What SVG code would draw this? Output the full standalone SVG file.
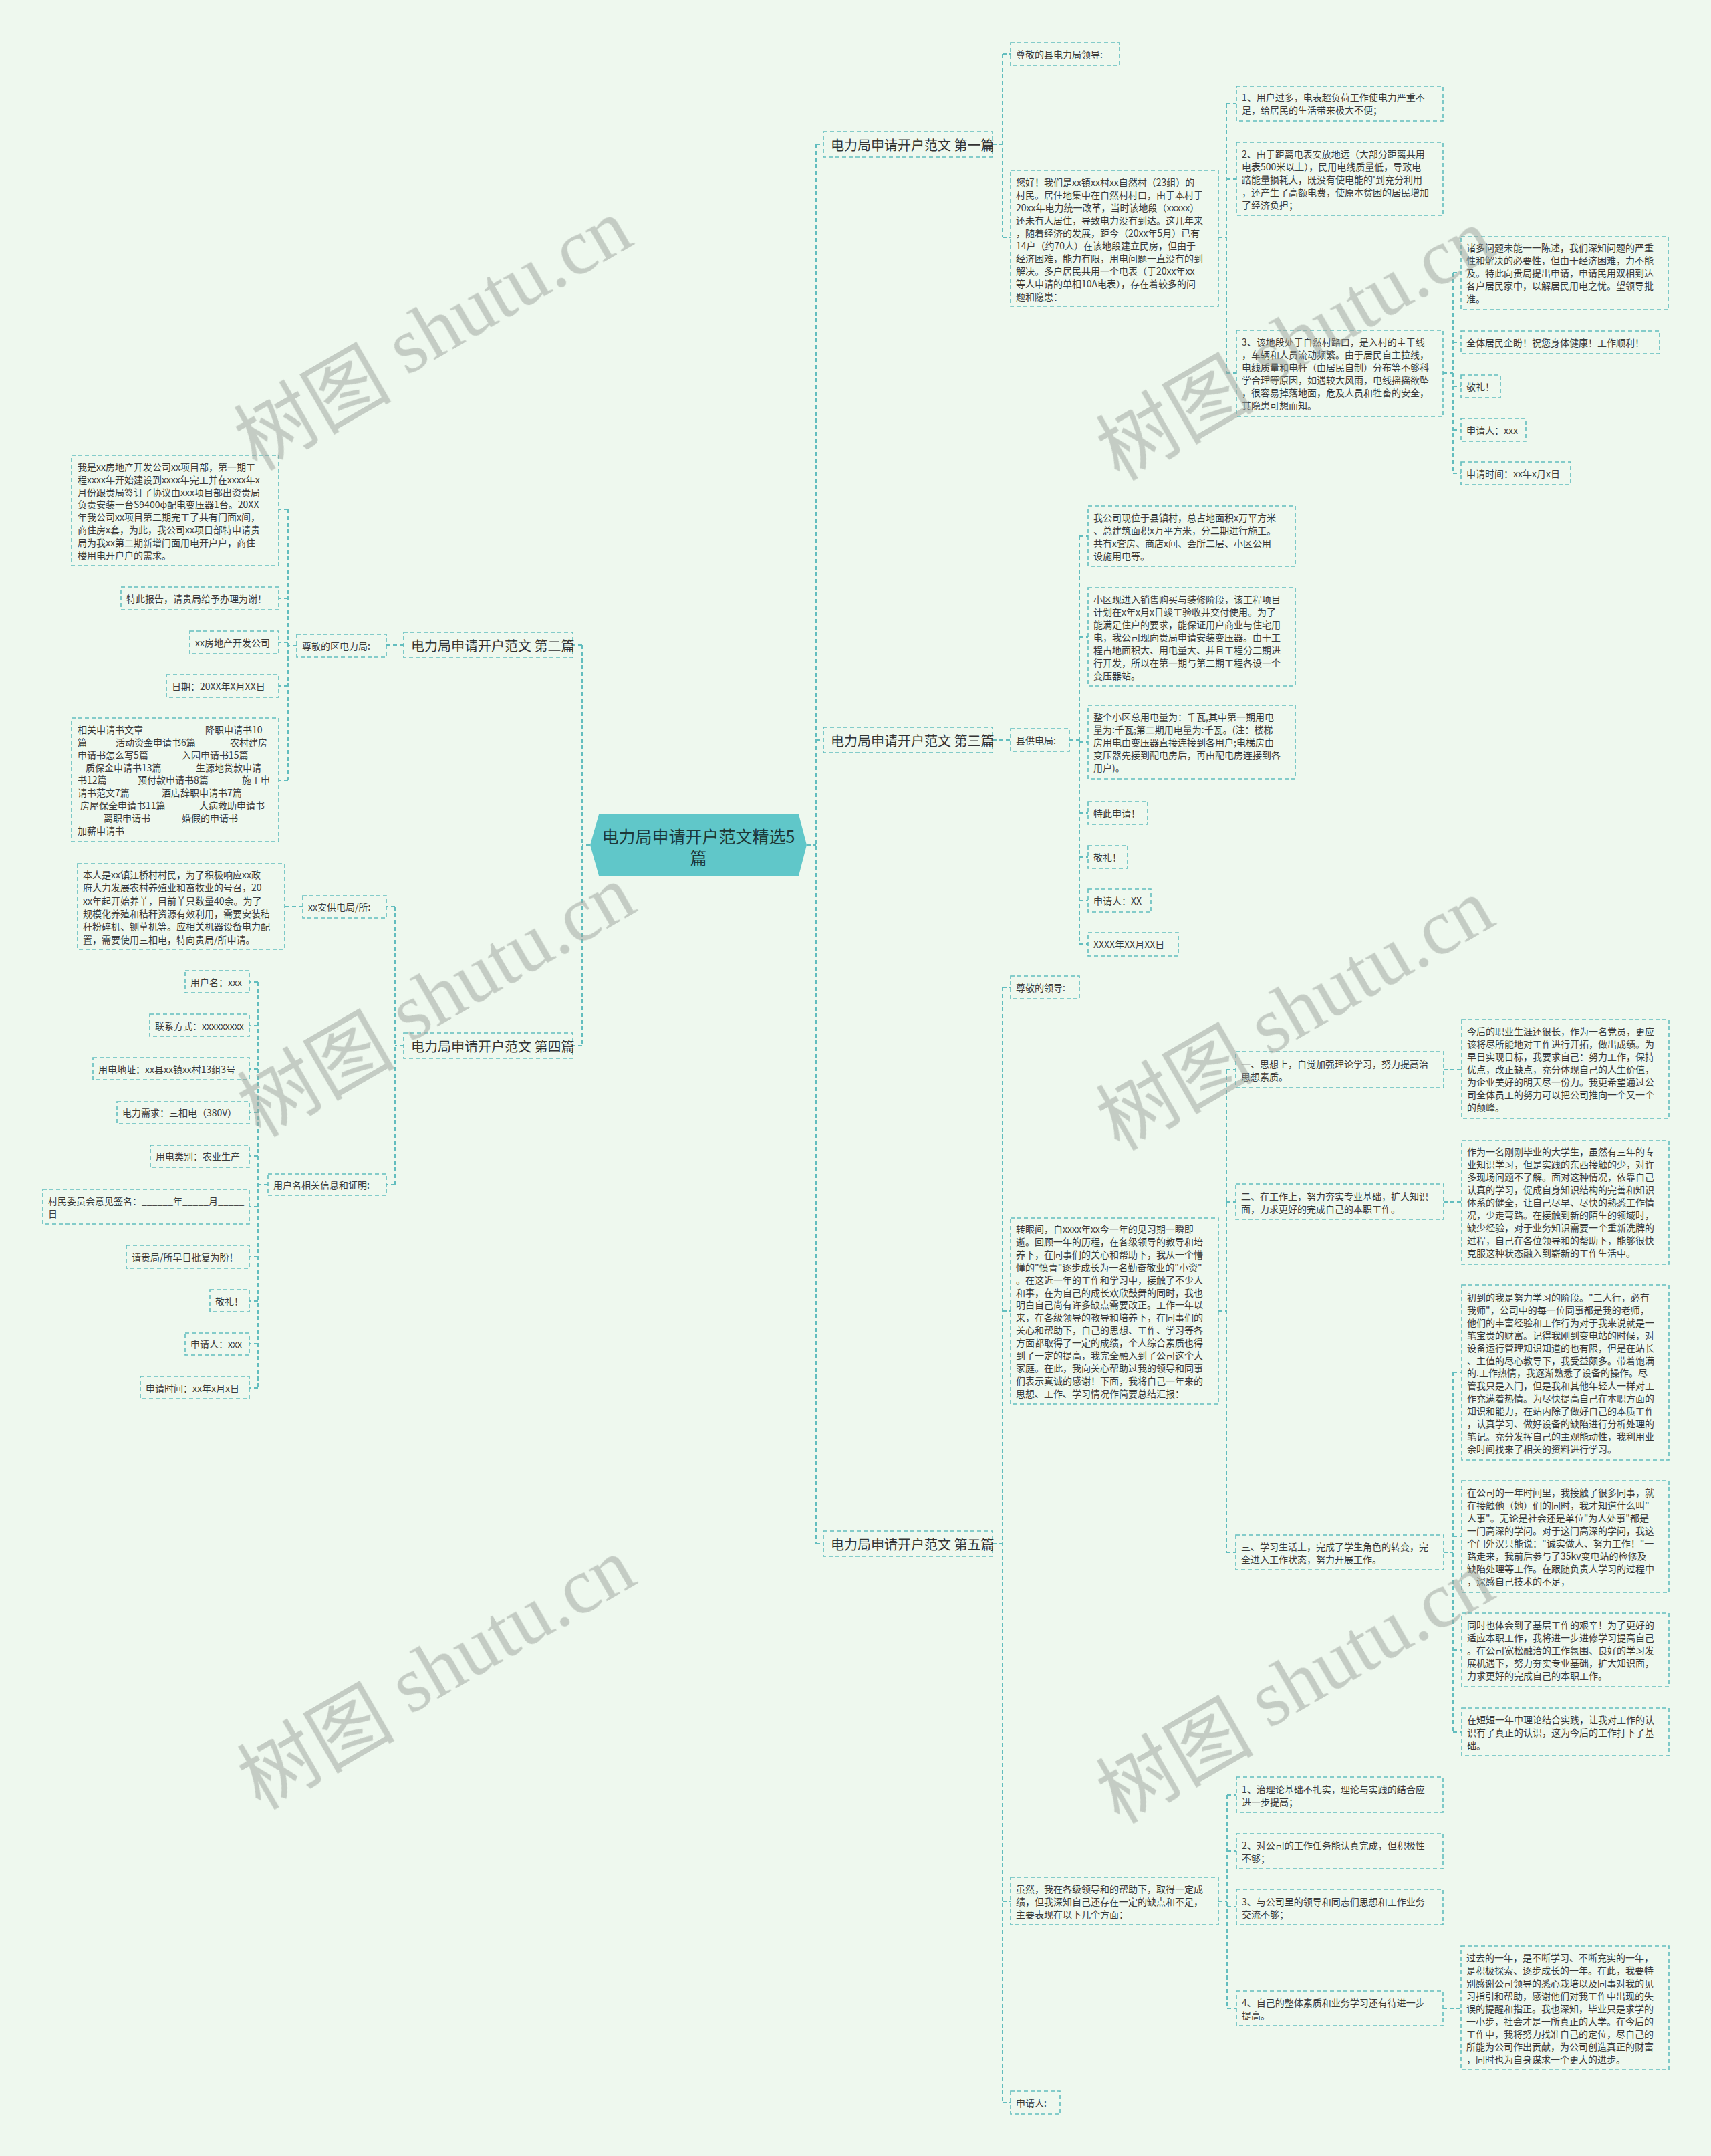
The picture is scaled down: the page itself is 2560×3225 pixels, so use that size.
<svg xmlns="http://www.w3.org/2000/svg" width="2560" height="3225" viewBox="0 0 2560 3225">
<style>
.bg{fill:#eef8ee}
.box{fill:none;stroke:#62bdbe;stroke-width:1.6;stroke-dasharray:6 4}
.ln{fill:none;stroke:#62bdbe;stroke-width:2;stroke-dasharray:6 4}
text,tspan{dominant-baseline:central}
.t{font-family:"Noto Sans CJK SC","Liberation Sans",sans-serif;font-size:14px;fill:#3a3a3a}
.ti{font-family:"Noto Sans CJK SC","Liberation Sans",sans-serif;font-size:20px;fill:#333}
.ct{font-family:"Noto Sans CJK SC","Liberation Sans",sans-serif;font-size:25px;fill:#1d3838;text-anchor:middle}
.wm{font-size:118px;fill:#9aa19a;opacity:0.5;text-anchor:middle}
.wc{font-family:"Noto Sans CJK SC",sans-serif}
.ws{font-family:"Liberation Serif",serif}
</style>
<rect class="bg" x="0" y="0" width="2560" height="3225"/>

<g id="connectors">
<path class="ln" d="M1207 1264H1221M1221 216V2309M1221 216H1232M1221 1107H1232M1221 2309H1232"/>
<path class="ln" d="M883 1264H871M871 965V1564M871 965H857M871 1564H857"/>
<path class="ln" d="M1485 216H1500M1500 81V355M1500 81H1512M1500 355H1512"/>
<path class="ln" d="M1823 355H1835M1835 155V558M1835 155H1850M1835 268H1850M1835 558H1850"/>
<path class="ln" d="M2159 558H2174M2174 408V708M2174 408H2186M2174 512H2186M2174 578H2186M2174 643H2186M2174 708H2186"/>
<path class="ln" d="M1485 1107H1512M1600 1107H1615M1615 802V1412M1615 802H1628M1615 953H1628M1615 1110H1628M1615 1216H1628M1615 1282H1628M1615 1347H1628M1615 1412H1628"/>
<path class="ln" d="M1485 2309H1500M1500 1477V3145M1500 1477H1512M1500 1961H1512M1500 2844H1512M1500 3145H1512"/>
<path class="ln" d="M1823 1961H1835M1835 1600V2322M1835 1600H1849M1835 1798H1849M1835 2322H1849"/>
<path class="ln" d="M2160 1600H2187M2160 1798H2187"/>
<path class="ln" d="M2160 2322H2174M2174 2053V2591M2174 2053H2187M2174 2298H2187M2174 2468H2187M2174 2591H2187"/>
<path class="ln" d="M1823 2844H1836M1836 2685V3004M1836 2685H1850M1836 2769H1850M1836 2852H1850M1836 3004H1850M2159 3004H2186"/>
<path class="ln" d="M604 965H578M444 966H431M431 762V1167M431 762H417M431 895H417M431 961H417M431 1026H417M431 1167H417"/>
<path class="ln" d="M604 1564H591M591 1356V1772M591 1356H578M591 1772H578M453 1356H426"/>
<path class="ln" d="M401 1772H386M386 1469V2076M386 1469H373M386 1534H373M386 1599H373M386 1664H373M386 1729H373M386 1805H373M386 1880H373M386 1946H373M386 2010H373M386 2076H373"/>
</g>

<g id="center">
<polygon points="883,1264 896,1218 1195,1218 1207,1264 1195,1310 896,1310" fill="#60c7c9"/>
<text class="ct" x="1045" y="1250">电力局申请开户范文精选5</text>
<text class="ct" x="1045" y="1282">篇</text>
</g>

<!-- ===== 第一篇 ===== -->
<g id="b1">
<rect class="box" x="1232" y="197" width="253" height="38"/>
<text class="ti" x="1243" y="216">电力局申请开户范文 第一篇</text>
</g>
<g id="b1-greet">
<rect class="box" x="1512" y="64" width="163" height="34"/>
<text class="t" x="1520" y="81">尊敬的县电力局领导:</text>
</g>
<g id="b1-body">
<rect class="box" x="1512" y="255" width="311" height="203"/>
<text class="t" x="1520" y="272"><tspan x="1520" dy="0">您好！我们是xx镇xx村xx自然村（23组）的</tspan><tspan x="1520" dy="19">村民。居住地集中在自然村村口，由于本村于</tspan><tspan x="1520" dy="19">20xx年电力统一改革，当时该地段（xxxxx）</tspan><tspan x="1520" dy="19">还未有人居住，导致电力没有到达。这几年来</tspan><tspan x="1520" dy="19">，随着经济的发展，距今（20xx年5月）已有</tspan><tspan x="1520" dy="19">14户（约70人）在该地段建立民房，但由于</tspan><tspan x="1520" dy="19">经济困难，能力有限，用电问题一直没有的到</tspan><tspan x="1520" dy="19">解决。多户居民共用一个电表（于20xx年xx</tspan><tspan x="1520" dy="19">等人申请的单相10A电表），存在着较多的问</tspan><tspan x="1520" dy="19">题和隐患：</tspan></text>
</g>
<g id="b1-p1">
<rect class="box" x="1850" y="129" width="309" height="52"/>
<text class="t" x="1858" y="145"><tspan x="1858" dy="0">1、用户过多，电表超负荷工作使电力严重不</tspan><tspan x="1858" dy="19">足，给居民的生活带来极大不便；</tspan></text>
</g>
<g id="b1-p2">
<rect class="box" x="1850" y="213" width="309" height="109"/>
<text class="t" x="1858" y="230"><tspan x="1858" dy="0">2、由于距离电表安放地远（大部分距离共用</tspan><tspan x="1858" dy="19">电表500米以上），民用电线质量低，导致电</tspan><tspan x="1858" dy="19">路能量损耗大，既没有使电能的'到充分利用</tspan><tspan x="1858" dy="19">，还产生了高额电费，使原本贫困的居民增加</tspan><tspan x="1858" dy="19">了经济负担；</tspan></text>
</g>
<g id="b1-p3">
<rect class="box" x="1850" y="494" width="309" height="129"/>
<text class="t" x="1858" y="511"><tspan x="1858" dy="0">3、该地段处于自然村路口，是入村的主干线</tspan><tspan x="1858" dy="19">，车辆和人员流动频繁。由于居民自主拉线，</tspan><tspan x="1858" dy="19">电线质量和电杆（由居民自制）分布等不够科</tspan><tspan x="1858" dy="19">学合理等原因，如遇较大风雨，电线摇摇欲坠</tspan><tspan x="1858" dy="19">，很容易掉落地面，危及人员和牲畜的安全，</tspan><tspan x="1858" dy="19">其隐患可想而知。</tspan></text>
</g>
<g id="b1-q1">
<rect class="box" x="2186" y="354" width="310" height="109"/>
<text class="t" x="2194" y="370"><tspan x="2194" dy="0">诸多问题未能一一陈述，我们深知问题的严重</tspan><tspan x="2194" dy="19">性和解决的必要性，但由于经济困难，力不能</tspan><tspan x="2194" dy="19">及。特此向贵局提出申请，申请民用双相到达</tspan><tspan x="2194" dy="19">各户居民家中，以解居民用电之忧。望领导批</tspan><tspan x="2194" dy="19">准。</tspan></text>
</g>
<g id="b1-q2">
<rect class="box" x="2186" y="495" width="297" height="34"/>
<text class="t" x="2194" y="512">全体居民企盼！祝您身体健康！工作顺利！</text>
</g>
<g id="b1-q3">
<rect class="box" x="2186" y="561" width="59" height="34"/>
<text class="t" x="2194" y="578">敬礼！</text>
</g>
<g id="b1-q4">
<rect class="box" x="2186" y="626" width="97" height="34"/>
<text class="t" x="2194" y="643">申请人：xxx</text>
</g>
<g id="b1-q5">
<rect class="box" x="2186" y="691" width="164" height="34"/>
<text class="t" x="2194" y="708">申请时间：xx年x月x日</text>
</g>

<!-- ===== 第三篇 ===== -->
<g id="b3">
<rect class="box" x="1232" y="1088" width="253" height="38"/>
<text class="ti" x="1243" y="1107">电力局申请开户范文 第三篇</text>
</g>
<g id="b3-greet">
<rect class="box" x="1512" y="1090" width="88" height="34"/>
<text class="t" x="1520" y="1107">县供电局:</text>
</g>
<g id="b3-a">
<rect class="box" x="1628" y="757" width="310" height="90"/>
<text class="t" x="1636" y="774"><tspan x="1636" dy="0">我公司现位于县镇村，总占地面积x万平方米</tspan><tspan x="1636" dy="19">、总建筑面积x万平方米，分二期进行施工。</tspan><tspan x="1636" dy="19">共有x套房、商店x间、会所二层、小区公用</tspan><tspan x="1636" dy="19">设施用电等。</tspan></text>
</g>
<g id="b3-b">
<rect class="box" x="1628" y="879" width="310" height="147"/>
<text class="t" x="1636" y="896"><tspan x="1636" dy="0">小区现进入销售购买与装修阶段，该工程项目</tspan><tspan x="1636" dy="19">计划在x年x月x日竣工验收并交付使用。为了</tspan><tspan x="1636" dy="19">能满足住户的要求，能保证用户商业与住宅用</tspan><tspan x="1636" dy="19">电，我公司现向贵局申请安装变压器。由于工</tspan><tspan x="1636" dy="19">程占地面积大、用电量大、并且工程分二期进</tspan><tspan x="1636" dy="19">行开发，所以在第一期与第二期工程各设一个</tspan><tspan x="1636" dy="19">变压器站。</tspan></text>
</g>
<g id="b3-c">
<rect class="box" x="1628" y="1055" width="310" height="110"/>
<text class="t" x="1636" y="1072"><tspan x="1636" dy="0">整个小区总用电量为：千瓦,其中第一期用电</tspan><tspan x="1636" dy="19">量为:千瓦;第二期用电量为:千瓦。(注：楼梯</tspan><tspan x="1636" dy="19">房用电由变压器直接连接到各用户;电梯房由</tspan><tspan x="1636" dy="19">变压器先接到配电房后，再由配电房连接到各</tspan><tspan x="1636" dy="19">用户)。</tspan></text>
</g>
<g id="b3-d">
<rect class="box" x="1628" y="1199" width="89" height="34"/>
<text class="t" x="1636" y="1216">特此申请！</text>
</g>
<g id="b3-e">
<rect class="box" x="1628" y="1265" width="59" height="34"/>
<text class="t" x="1636" y="1282">敬礼！</text>
</g>
<g id="b3-f">
<rect class="box" x="1628" y="1330" width="94" height="34"/>
<text class="t" x="1636" y="1347">申请人：XX</text>
</g>
<g id="b3-g">
<rect class="box" x="1628" y="1395" width="135" height="35"/>
<text class="t" x="1636" y="1412">XXXX年XX月XX日</text>
</g>

<!-- ===== 第五篇 ===== -->
<g id="b5">
<rect class="box" x="1232" y="2290" width="253" height="38"/>
<text class="ti" x="1243" y="2309">电力局申请开户范文 第五篇</text>
</g>
<g id="b5-greet">
<rect class="box" x="1512" y="1460" width="103" height="34"/>
<text class="t" x="1520" y="1477">尊敬的领导:</text>
</g>
<g id="b5-body">
<rect class="box" x="1512" y="1822" width="311" height="278"/>
<text class="t" x="1520" y="1838"><tspan x="1520" dy="0">转眼间，自xxxx年xx今一年的见习期一瞬即</tspan><tspan x="1520" dy="18.9">逝。回顾一年的历程，在各级领导的教导和培</tspan><tspan x="1520" dy="18.9">养下，在同事们的关心和帮助下，我从一个懵</tspan><tspan x="1520" dy="18.9">懂的"愤青"逐步成长为一名勤奋敬业的"小资"</tspan><tspan x="1520" dy="18.9">。在这近一年的工作和学习中，接触了不少人</tspan><tspan x="1520" dy="18.9">和事，在为自己的成长欢欣鼓舞的同时，我也</tspan><tspan x="1520" dy="18.9">明白自己尚有许多缺点需要改正。工作一年以</tspan><tspan x="1520" dy="18.9">来，在各级领导的教导和培养下，在同事们的</tspan><tspan x="1520" dy="18.9">关心和帮助下，自己的思想、工作、学习等各</tspan><tspan x="1520" dy="18.9">方面都取得了一定的成绩，个人综合素质也得</tspan><tspan x="1520" dy="18.9">到了一定的提高，我完全融入到了公司这个大</tspan><tspan x="1520" dy="18.9">家庭。在此，我向关心帮助过我的领导和同事</tspan><tspan x="1520" dy="18.9">们表示真诚的感谢！下面，我将自己一年来的</tspan><tspan x="1520" dy="18.9">思想、工作、学习情况作简要总结汇报：</tspan></text>
</g>
<g id="b5-s1">
<rect class="box" x="1849" y="1573" width="311" height="54"/>
<text class="t" x="1857" y="1591"><tspan x="1857" dy="0">一、思想上，自觉加强理论学习，努力提高治</tspan><tspan x="1857" dy="19">思想素质。</tspan></text>
</g>
<g id="b5-s1a">
<rect class="box" x="2187" y="1525" width="310" height="148"/>
<text class="t" x="2195" y="1542"><tspan x="2195" dy="0">今后的职业生涯还很长，作为一名党员，更应</tspan><tspan x="2195" dy="19">该将尽所能地对工作进行开拓，做出成绩。为</tspan><tspan x="2195" dy="19">早日实现目标，我要求自己：努力工作，保持</tspan><tspan x="2195" dy="19">优点，改正缺点，充分体现自己的人生价值，</tspan><tspan x="2195" dy="19">为企业美好的明天尽一份力。我更希望通过公</tspan><tspan x="2195" dy="19">司全体员工的努力可以把公司推向一个又一个</tspan><tspan x="2195" dy="19">的颠峰。</tspan></text>
</g>
<g id="b5-s2">
<rect class="box" x="1849" y="1771" width="311" height="53"/>
<text class="t" x="1857" y="1789"><tspan x="1857" dy="0">二、在工作上，努力夯实专业基础，扩大知识</tspan><tspan x="1857" dy="19">面，力求更好的完成自己的本职工作。</tspan></text>
</g>
<g id="b5-s2a">
<rect class="box" x="2187" y="1706" width="310" height="185"/>
<text class="t" x="2195" y="1722"><tspan x="2195" dy="0">作为一名刚刚毕业的大学生，虽然有三年的专</tspan><tspan x="2195" dy="19">业知识学习，但是实践的东西接触的少，对许</tspan><tspan x="2195" dy="19">多现场问题不了解。面对这种情况，依靠自己</tspan><tspan x="2195" dy="19">认真的学习，促成自身知识结构的完善和知识</tspan><tspan x="2195" dy="19">体系的健全，让自己尽早、尽快的熟悉工作情</tspan><tspan x="2195" dy="19">况，少走弯路。在接触到新的陌生的领域时，</tspan><tspan x="2195" dy="19">缺少经验，对于业务知识需要一个重新洗牌的</tspan><tspan x="2195" dy="19">过程，自己在各位领导和的帮助下，能够很快</tspan><tspan x="2195" dy="19">克服这种状态融入到崭新的工作生活中。</tspan></text>
</g>
<g id="b5-s3">
<rect class="box" x="1849" y="2296" width="311" height="52"/>
<text class="t" x="1857" y="2313"><tspan x="1857" dy="0">三、学习生活上，完成了学生角色的转变，完</tspan><tspan x="1857" dy="19">全进入工作状态，努力开展工作。</tspan></text>
</g>
<g id="b5-s3a">
<rect class="box" x="2187" y="1922" width="310" height="262"/>
<text class="t" x="2195" y="1940"><tspan x="2195" dy="0">初到的我是努力学习的阶段。"三人行，必有</tspan><tspan x="2195" dy="18.9">我师"，公司中的每一位同事都是我的老师，</tspan><tspan x="2195" dy="18.9">他们的丰富经验和工作行为对于我来说就是一</tspan><tspan x="2195" dy="18.9">笔宝贵的财富。记得我刚到变电站的时候，对</tspan><tspan x="2195" dy="18.9">设备运行管理知识知道的也有限，但是在站长</tspan><tspan x="2195" dy="18.9">、主值的尽心教导下，我受益颇多。带着饱满</tspan><tspan x="2195" dy="18.9">的.工作热情，我逐渐熟悉了设备的操作。尽</tspan><tspan x="2195" dy="18.9">管我只是入门，但是我和其他年轻人一样对工</tspan><tspan x="2195" dy="18.9">作充满着热情。为尽快提高自己在本职方面的</tspan><tspan x="2195" dy="18.9">知识和能力，在站内除了做好自己的本质工作</tspan><tspan x="2195" dy="18.9">，认真学习、做好设备的缺陷进行分析处理的</tspan><tspan x="2195" dy="18.9">笔记。充分发挥自己的主观能动性，我利用业</tspan><tspan x="2195" dy="18.9">余时间找来了相关的资料进行学习。</tspan></text>
</g>
<g id="b5-s3b">
<rect class="box" x="2187" y="2215" width="310" height="167"/>
<text class="t" x="2195" y="2232"><tspan x="2195" dy="0">在公司的一年时间里，我接触了很多同事，就</tspan><tspan x="2195" dy="19">在接触他（她）们的同时，我才知道什么叫"</tspan><tspan x="2195" dy="19">人事"。无论是社会还是单位"为人处事"都是</tspan><tspan x="2195" dy="19">一门高深的学问。对于这门高深的学问，我这</tspan><tspan x="2195" dy="19">个门外汉只能说："诚实做人、努力工作！"一</tspan><tspan x="2195" dy="19">路走来，我前后参与了35kv变电站的检修及</tspan><tspan x="2195" dy="19">缺陷处理等工作。在跟随负责人学习的过程中</tspan><tspan x="2195" dy="19">，深感自己技术的不足，</tspan></text>
</g>
<g id="b5-s3c">
<rect class="box" x="2187" y="2413" width="310" height="110"/>
<text class="t" x="2195" y="2430"><tspan x="2195" dy="0">同时也体会到了基层工作的艰辛！为了更好的</tspan><tspan x="2195" dy="19">适应本职工作，我将进一步进修学习提高自己</tspan><tspan x="2195" dy="19">。在公司宽松融洽的工作氛围、良好的学习发</tspan><tspan x="2195" dy="19">展机遇下，努力夯实专业基础，扩大知识面，</tspan><tspan x="2195" dy="19">力求更好的完成自己的本职工作。</tspan></text>
</g>
<g id="b5-s3d">
<rect class="box" x="2187" y="2555" width="310" height="71"/>
<text class="t" x="2195" y="2572"><tspan x="2195" dy="0">在短短一年中理论结合实践，让我对工作的认</tspan><tspan x="2195" dy="19">识有了真正的认识，这为今后的工作打下了基</tspan><tspan x="2195" dy="19">础。</tspan></text>
</g>
<g id="b5-but">
<rect class="box" x="1512" y="2808" width="311" height="71"/>
<text class="t" x="1520" y="2825"><tspan x="1520" dy="0">虽然，我在各级领导和的帮助下，取得一定成</tspan><tspan x="1520" dy="19">绩，但我深知自己还存在一定的缺点和不足，</tspan><tspan x="1520" dy="19">主要表现在以下几个方面：</tspan></text>
</g>
<g id="b5-w1">
<rect class="box" x="1850" y="2658" width="309" height="53"/>
<text class="t" x="1858" y="2676"><tspan x="1858" dy="0">1、治理论基础不扎实，理论与实践的结合应</tspan><tspan x="1858" dy="19">进一步提高；</tspan></text>
</g>
<g id="b5-w2">
<rect class="box" x="1850" y="2743" width="309" height="52"/>
<text class="t" x="1858" y="2760"><tspan x="1858" dy="0">2、对公司的工作任务能认真完成，但积极性</tspan><tspan x="1858" dy="19">不够；</tspan></text>
</g>
<g id="b5-w3">
<rect class="box" x="1850" y="2826" width="309" height="53"/>
<text class="t" x="1858" y="2844"><tspan x="1858" dy="0">3、与公司里的领导和同志们思想和工作业务</tspan><tspan x="1858" dy="19">交流不够；</tspan></text>
</g>
<g id="b5-w4">
<rect class="box" x="1850" y="2978" width="309" height="52"/>
<text class="t" x="1858" y="2995"><tspan x="1858" dy="0">4、自己的整体素质和业务学习还有待进一步</tspan><tspan x="1858" dy="19">提高。</tspan></text>
</g>
<g id="b5-w4a">
<rect class="box" x="2186" y="2911" width="311" height="185"/>
<text class="t" x="2194" y="2928"><tspan x="2194" dy="0">过去的一年，是不断学习、不断充实的一年，</tspan><tspan x="2194" dy="19">是积极探索、逐步成长的一年。在此，我要特</tspan><tspan x="2194" dy="19">别感谢公司领导的悉心栽培以及同事对我的见</tspan><tspan x="2194" dy="19">习指引和帮助，感谢他们对我工作中出现的失</tspan><tspan x="2194" dy="19">误的提醒和指正。我也深知，毕业只是求学的</tspan><tspan x="2194" dy="19">一小步，社会才是一所真正的大学。在今后的</tspan><tspan x="2194" dy="19">工作中，我将努力找准自己的定位，尽自己的</tspan><tspan x="2194" dy="19">所能为公司作出贡献，为公司创造真正的财富</tspan><tspan x="2194" dy="19">，同时也为自身谋求一个更大的进步。</tspan></text>
</g>
<g id="b5-sign">
<rect class="box" x="1512" y="3128" width="74" height="34"/>
<text class="t" x="1520" y="3145">申请人:</text>
</g>

<!-- ===== 第二篇 ===== -->
<g id="b2">
<rect class="box" x="604" y="946" width="253" height="38"/>
<text class="ti" x="615" y="965">电力局申请开户范文 第二篇</text>
</g>
<g id="b2-greet">
<rect class="box" x="444" y="949" width="134" height="34"/>
<text class="t" x="452" y="966">尊敬的区电力局:</text>
</g>
<g id="b2-body">
<rect class="box" x="107" y="681" width="310" height="165"/>
<text class="t" x="116" y="698"><tspan x="116" dy="0">我是xx房地产开发公司xx项目部，第一期工</tspan><tspan x="116" dy="18.8">程xxxx年开始建设到xxxx年完工并在xxxx年x</tspan><tspan x="116" dy="18.8">月份跟贵局签订了协议由xxx项目部出资贵局</tspan><tspan x="116" dy="18.8">负责安装一台S9400φ配电变压器1台。20XX</tspan><tspan x="116" dy="18.8">年我公司xx项目第二期完工了共有门面x间，</tspan><tspan x="116" dy="18.8">商住房x套，为此，我公司xx项目部特申请贵</tspan><tspan x="116" dy="18.8">局为我xx第二期新增门面用电开户户，商住</tspan><tspan x="116" dy="18.8">楼用电开户户的需求。</tspan></text>
</g>
<g id="b2-b">
<rect class="box" x="181" y="878" width="236" height="34"/>
<text class="t" x="189" y="895">特此报告，请贵局给予办理为谢！</text>
</g>
<g id="b2-c">
<rect class="box" x="284" y="944" width="133" height="34"/>
<text class="t" x="292" y="961">xx房地产开发公司</text>
</g>
<g id="b2-d">
<rect class="box" x="249" y="1009" width="168" height="34"/>
<text class="t" x="257" y="1026">日期：20XX年X月XX日</text>
</g>
<g id="b2-e">
<rect class="box" x="107" y="1074" width="310" height="185"/>
<text class="t" y="1091"><tspan x="116">相关申请书文章</tspan><tspan x="307">降职申请书10</tspan></text>
<text class="t" y="1110"><tspan x="116">篇</tspan><tspan x="173">活动资金申请书6篇</tspan><tspan x="344">农村建房</tspan></text>
<text class="t" y="1129"><tspan x="116">申请书怎么写5篇</tspan><tspan x="272">入园申请书15篇</tspan></text>
<text class="t" y="1148"><tspan x="128">质保金申请书13篇</tspan><tspan x="293">生源地贷款申请</tspan></text>
<text class="t" y="1166"><tspan x="116">书12篇</tspan><tspan x="206">预付款申请书8篇</tspan><tspan x="362">施工申</tspan></text>
<text class="t" y="1185"><tspan x="116">请书范文7篇</tspan><tspan x="242">酒店辞职申请书7篇</tspan></text>
<text class="t" y="1204"><tspan x="120">房屋保全申请书11篇</tspan><tspan x="298">大病救助申请书</tspan></text>
<text class="t" y="1223"><tspan x="155">离职申请书</tspan><tspan x="272">婚假的申请书</tspan></text>
<text class="t" y="1242"><tspan x="116">加薪申请书</tspan></text>
</g>

<!-- ===== 第四篇 ===== -->
<g id="b4">
<rect class="box" x="604" y="1545" width="253" height="38"/>
<text class="ti" x="615" y="1564">电力局申请开户范文 第四篇</text>
</g>
<g id="b4-a">
<rect class="box" x="453" y="1340" width="125" height="33"/>
<text class="t" x="461" y="1356">xx安供电局/所:</text>
</g>
<g id="b4-a1">
<rect class="box" x="116" y="1292" width="310" height="128"/>
<text class="t" x="124" y="1308"><tspan x="124" dy="0">本人是xx镇江桥村村民，为了积极响应xx政</tspan><tspan x="124" dy="19.3">府大力发展农村养殖业和畜牧业的号召，20</tspan><tspan x="124" dy="19.3">xx年起开始养羊，目前羊只数量40余。为了</tspan><tspan x="124" dy="19.3">规模化养殖和秸秆资源有效利用，需要安装秸</tspan><tspan x="124" dy="19.3">秆粉碎机、铡草机等。应相关机器设备电力配</tspan><tspan x="124" dy="19.3">置，需要使用三相电，特向贵局/所申请。</tspan></text>
</g>
<g id="b4-b">
<rect class="box" x="401" y="1756" width="177" height="32"/>
<text class="t" x="409" y="1772">用户名相关信息和证明:</text>
</g>
<g id="b4-b1">
<rect class="box" x="277" y="1452" width="96" height="33"/>
<text class="t" x="285" y="1469">用户名：xxx</text>
</g>
<g id="b4-b2">
<rect class="box" x="224" y="1517" width="149" height="33"/>
<text class="t" x="232" y="1534">联系方式：xxxxxxxxx</text>
</g>
<g id="b4-b3">
<rect class="box" x="139" y="1582" width="234" height="33"/>
<text class="t" x="147" y="1599">用电地址：xx县xx镇xx村13组3号</text>
</g>
<g id="b4-b4">
<rect class="box" x="175" y="1648" width="198" height="33"/>
<text class="t" x="183" y="1664">电力需求：三相电（380V）</text>
</g>
<g id="b4-b5">
<rect class="box" x="225" y="1713" width="148" height="33"/>
<text class="t" x="233" y="1729">用电类别：农业生产</text>
</g>
<g id="b4-b6">
<rect class="box" x="64" y="1779" width="309" height="52"/>
<text class="t" x="72" y="1796"><tspan x="72" dy="0">村民委员会意见签名：______年_____月_____</tspan><tspan x="72" dy="19">日</tspan></text>
</g>
<g id="b4-b7">
<rect class="box" x="189" y="1863" width="184" height="34"/>
<text class="t" x="197" y="1880">请贵局/所早日批复为盼！</text>
</g>
<g id="b4-b8">
<rect class="box" x="314" y="1929" width="59" height="33"/>
<text class="t" x="322" y="1946">敬礼！</text>
</g>
<g id="b4-b9">
<rect class="box" x="277" y="1994" width="96" height="33"/>
<text class="t" x="285" y="2010">申请人：xxx</text>
</g>
<g id="b4-b10">
<rect class="box" x="210" y="2059" width="163" height="33"/>
<text class="t" x="218" y="2076">申请时间：xx年x月x日</text>
</g>

<g id="watermark" class="wm">
<text transform="rotate(-30 645 495)" x="645" y="495"><tspan class="wc">树图</tspan><tspan class="ws"> shutu.cn</tspan></text>
<text transform="rotate(-30 650 1492)" x="650" y="1492"><tspan class="wc">树图</tspan><tspan class="ws"> shutu.cn</tspan></text>
<text transform="rotate(-30 650 2498)" x="650" y="2498"><tspan class="wc">树图</tspan><tspan class="ws"> shutu.cn</tspan></text>
<text transform="rotate(-30 1935 510)" x="1935" y="510"><tspan class="wc">树图</tspan><tspan class="ws"> shutu.cn</tspan></text>
<text transform="rotate(-30 1935 1512)" x="1935" y="1512"><tspan class="wc">树图</tspan><tspan class="ws"> shutu.cn</tspan></text>
<text transform="rotate(-30 1935 2519)" x="1935" y="2519"><tspan class="wc">树图</tspan><tspan class="ws"> shutu.cn</tspan></text>
</g>
</svg>
